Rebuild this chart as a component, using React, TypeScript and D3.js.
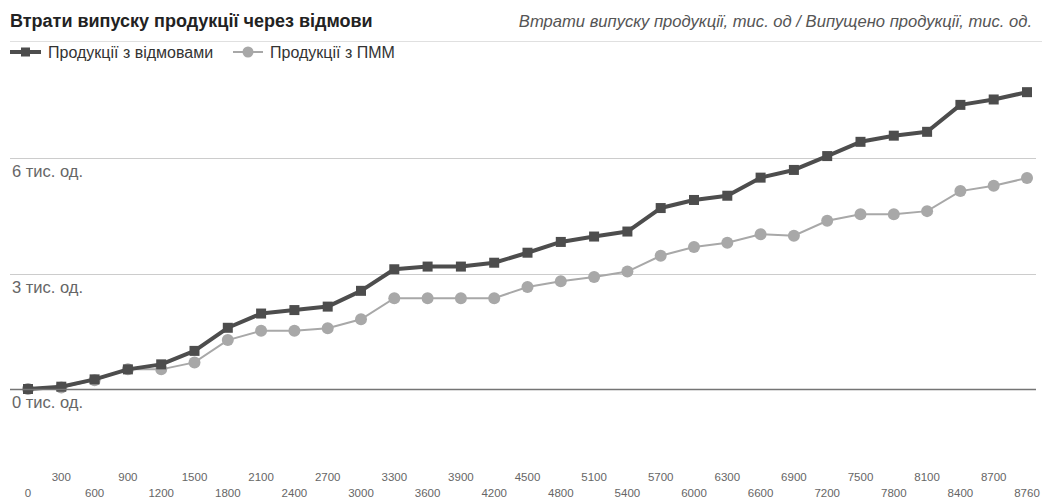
import React from "react";
import * as d3 from "d3";

// Hours of operation (category labels on the x axis)
const hours = [
  "0", "300", "600", "900", "1200", "1500", "1800", "2100", "2400", "2700",
  "3000", "3300", "3600", "3900", "4200", "4500", "4800", "5100", "5400", "5700",
  "6000", "6300", "6600", "6900", "7200", "7500", "7800", "8100", "8400", "8700", "8760",
];

// Output losses, thousand units
const withFailures = [
  0, 0.06, 0.25, 0.51, 0.64, 0.99, 1.59, 1.96, 2.05, 2.14,
  2.55, 3.11, 3.18, 3.18, 3.28, 3.54, 3.82, 3.96, 4.09, 4.7,
  4.91, 5.02, 5.49, 5.69, 6.05, 6.42, 6.58, 6.68, 7.38, 7.52, 7.71,
];
const withPMM = [
  0, 0.04, 0.23, 0.51, 0.51, 0.69, 1.27, 1.51, 1.51, 1.58,
  1.81, 2.36, 2.36, 2.36, 2.36, 2.65, 2.8, 2.91, 3.05, 3.46,
  3.69, 3.8, 4.02, 3.98, 4.37, 4.54, 4.54, 4.62, 5.14, 5.28, 5.48,
];

const yTicks = [0, 3, 6];

const W = 1042;
const H = 500;
const FONT = "Arial, 'Liberation Sans', sans-serif";

export default function App() {
  const x = d3.scalePoint<string>().domain(hours).range([28, 1027]);
  const y = d3.scaleLinear().domain([0, 9]).range([389, 42.5]);

  const line = d3
    .line<number>()
    .x((_, i) => x(hours[i]) as number)
    .y((d) => y(d));

  return (
    <svg
      width={W}
      height={H}
      style={{ position: "absolute", left: 0, top: 0, background: "#fff" }}
      fontFamily={FONT}
    >
      {/* header */}
      <text x={10} y={27} fontSize={18} fontWeight="bold" fill="#222">
        Втрати випуску продукції через відмови
      </text>
      <text x={1032} y={27} fontSize={16.6} fontStyle="italic" fill="#555" textAnchor="end">
        Втрати випуску продукції, тис. од / Випущено продукції, тис. од.
      </text>
      <line x1={10} x2={W} y1={41.5} y2={41.5} stroke="#e0e0e0" strokeWidth={1} />

      {/* legend */}
      <g>
        <line x1={10} x2={41} y1={52} y2={52} stroke="#4d4d4d" strokeWidth={4} />
        <rect x={21} y={47.5} width={9} height={9} fill="#4d4d4d" />
        <text x={48} y={57.5} fontSize={16} fill="#333">Продукції з відмовами</text>
        <line x1={233} x2={263} y1={52} y2={52} stroke="#a8a8a8" strokeWidth={2} />
        <circle cx={248} cy={52} r={5.5} fill="#a8a8a8" />
        <text x={270} y={57.5} fontSize={16} fill="#333">Продукції з ПММ</text>
      </g>

      {/* gridlines and y labels */}
      {yTicks.map((t) => (
        <g key={t}>
          {t !== 0 && (
            <line
              x1={10}
              x2={1036}
              y1={Math.round(y(t)) + 0.5}
              y2={Math.round(y(t)) + 0.5}
              stroke="#cccccc"
              strokeWidth={1}
            />
          )}
          <text x={12} y={y(t) + 19} fontSize={16.5} fill="#666">
            {`${t} тис. од.`}
          </text>
        </g>
      ))}

      {/* series: with PMM */}
      <path d={line(withPMM) ?? ""} fill="none" stroke="#a8a8a8" strokeWidth={2} />
      {withPMM.map((v, i) => (
        <circle key={`p${i}`} cx={x(hours[i])} cy={y(v)} r={6} fill="#a8a8a8" />
      ))}

      {/* series: with failures */}
      <path d={line(withFailures) ?? ""} fill="none" stroke="#4d4d4d" strokeWidth={4} strokeLinejoin="round" />
      {withFailures.map((v, i) => (
        <rect
          key={`f${i}`}
          x={(x(hours[i]) as number) - 5}
          y={y(v) - 5}
          width={10}
          height={10}
          fill="#4d4d4d"
        />
      ))}

      {/* baseline drawn over the data */}
      <line x1={10} x2={1036} y1={389.5} y2={389.5} stroke="#757575" strokeWidth={1.5} />

      {/* x labels in two staggered rows */}
      {hours.map((h, i) => (
        <text
          key={h}
          x={x(h)}
          y={i % 2 === 1 ? 481 : 497}
          fontSize={11.5}
          fill="#666"
          textAnchor="middle"
        >
          {h}
        </text>
      ))}
    </svg>
  );
}
